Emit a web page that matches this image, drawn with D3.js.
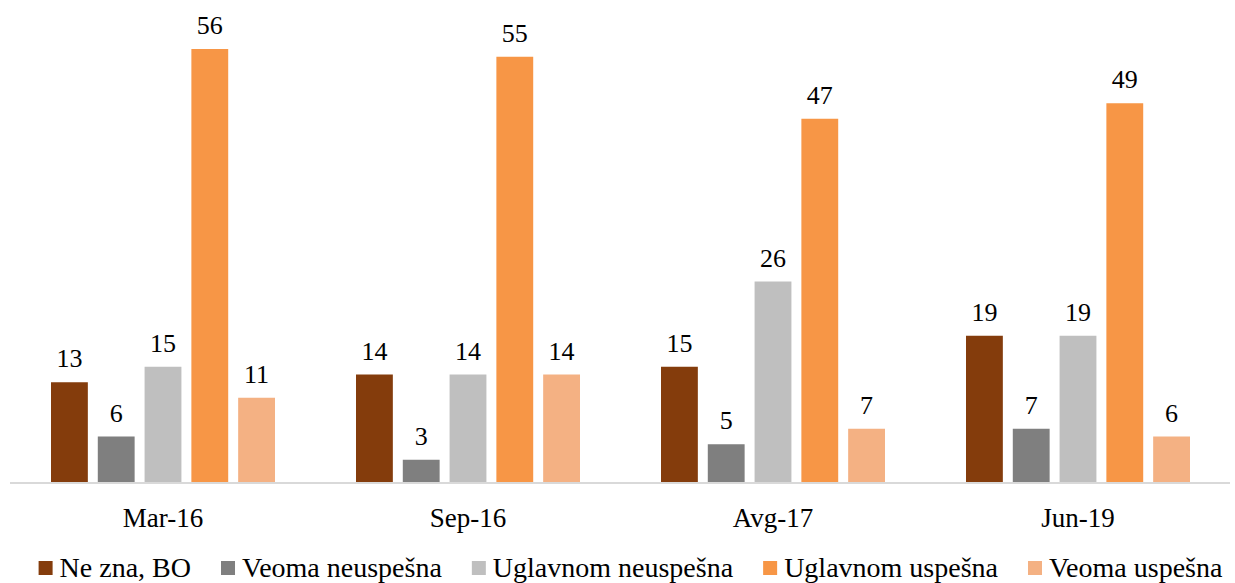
<!DOCTYPE html>
<html><head><meta charset="utf-8">
<script src="https://cdn.jsdelivr.net/npm/d3@7"></script>
<style>body{margin:0;background:#fff}svg{display:block}</style>
</head><body>
<svg id="c" width="1235" height="583"></svg>
<script>
const categories = ["Mar-16", "Sep-16", "Avg-17", "Jun-19"];
const seriesNames = ["Ne zna, BO", "Veoma neuspešna", "Uglavnom neuspešna", "Uglavnom uspešna", "Veoma uspešna"];
const neZna = [13, 14, 15, 19];
const veomaNeuspesna = [6, 3, 5, 7];
const uglavnomNeuspesna = [15, 14, 26, 19];
const uglavnomUspesna = [56, 55, 47, 49];
const veomaUspesna = [11, 14, 7, 6];
const colors = ["#843C0C", "#7F7F7F", "#BFBFBF", "#F79646", "#F4B183"];

const seriesValues = [neZna, veomaNeuspesna, uglavnomNeuspesna, uglavnomUspesna, veomaUspesna];
const FONT = "serif";

const svg = d3.select("#c");
const x0 = d3.scaleBand().domain(categories).range([10.5, 1230.5]).paddingInner(0).paddingOuter(0);
const x1 = d3.scaleBand().domain(seriesNames).range([40.5, x0.bandwidth() - 40.5]).paddingInner(10/47).paddingOuter(0);
const y = d3.scaleLinear().domain([0, 56]).range([483, 49]);

const groups = svg.append("g").selectAll("g").data(categories).join("g")
  .attr("transform", d => `translate(${x0(d)},0)`);

groups.each(function(cat, ci) {
  const g = d3.select(this);
  seriesNames.forEach((s, si) => {
    const v = seriesValues[si][ci];
    g.append("rect").attr("x", x1(s)).attr("width", x1.bandwidth())
      .attr("y", y(v)).attr("height", y(0) - y(v)).attr("fill", colors[si]);
    g.append("text").attr("x", x1(s) + x1.bandwidth()/2).attr("y", y(v) - 15)
      .attr("text-anchor", "middle").style("font-family", FONT).style("font-size", "26px")
      .attr("fill", "#000").text(v);
  });
});

// baseline axis
const xAxis = d3.axisBottom(x0).tickSize(0).tickPadding(0);
const ax = svg.append("g").attr("transform", `translate(0,${y(0)})`).call(xAxis);
ax.select(".domain").attr("stroke", "#D9D9D9").attr("stroke-width", 2).attr("d", "M10,0H1230");
ax.selectAll("text").style("font-family", FONT).style("font-size", "27px").attr("fill", "#000")
  .attr("dy", null).attr("y", 44);

// legend
const leg = svg.append("g");
const items = leg.selectAll("g").data(seriesNames).join("g");
items.append("rect").attr("width", 14).attr("height", 14).attr("y", -16).attr("fill", (d,i) => colors[i]);
items.append("text").attr("x", 21).attr("y", 0).style("font-family", FONT).style("font-size", "28px")
  .attr("fill", "#000").text(d => d);
let xpos = 0;
items.each(function() {
  const w = d3.select(this).select("text").node().getComputedTextLength();
  d3.select(this).attr("transform", `translate(${xpos},0)`);
  xpos += 21 + w + 30;
});
const total = xpos - 30;
leg.attr("transform", `translate(${630.5 - total/2},${577})`);
</script>
</body></html>
